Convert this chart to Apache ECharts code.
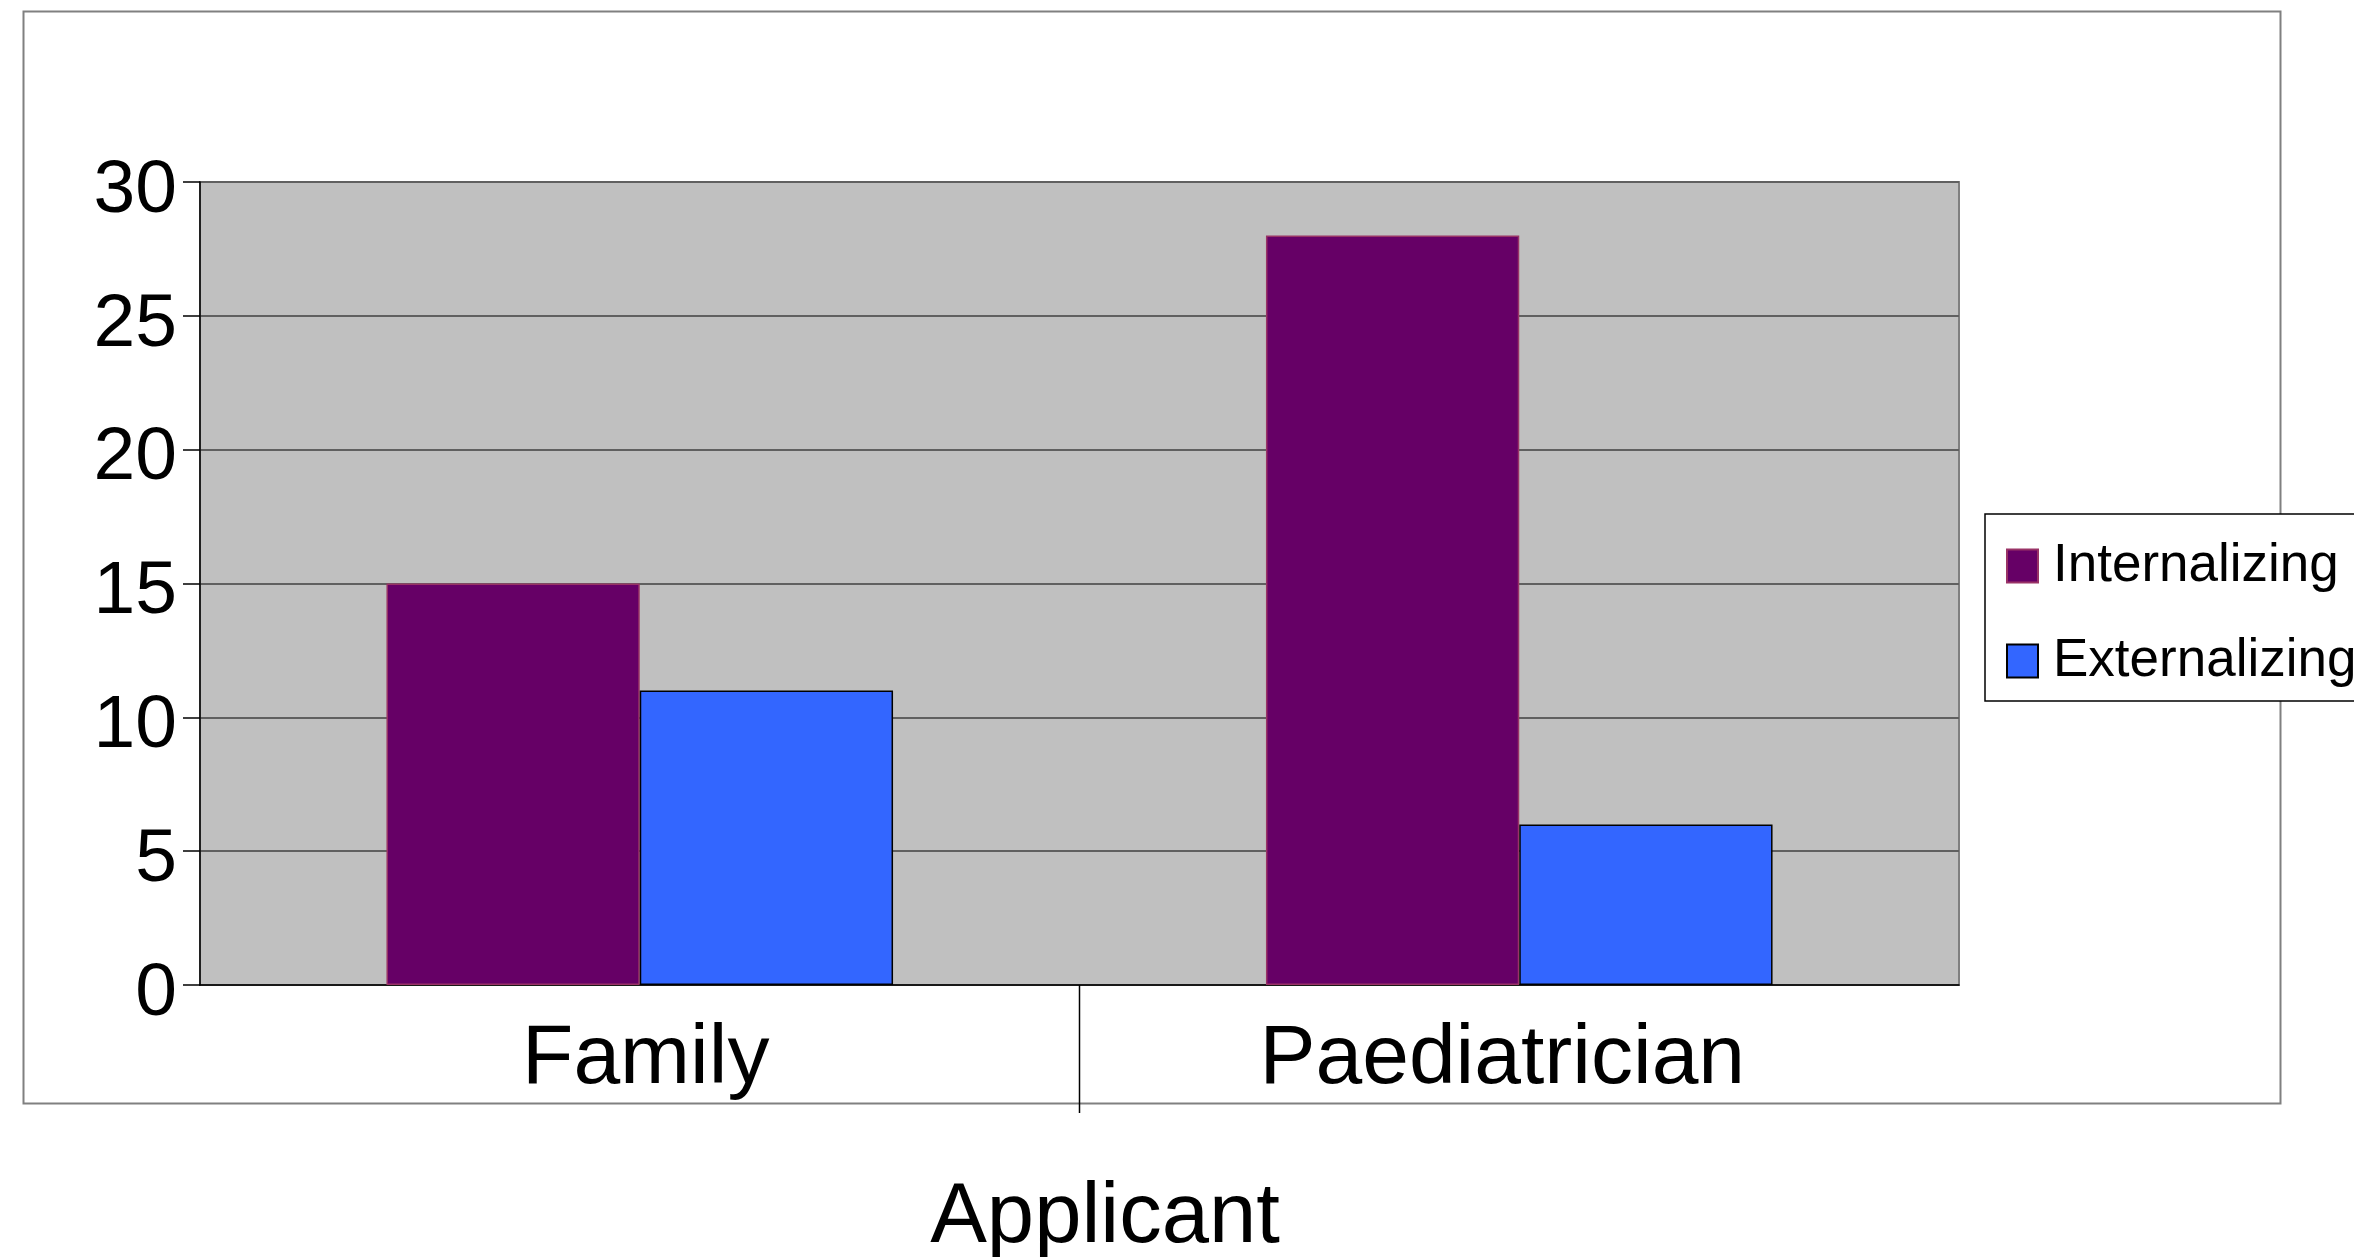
<!DOCTYPE html>
<html>
<head>
<meta charset="utf-8">
<script src="https://cdn.jsdelivr.net/npm/echarts@6/dist/echarts.min.js"></script>
<style>
  html, body { margin: 0; padding: 0; background: #fff; }
  #chart { width: 2354px; height: 1257px; }
</style>
</head>
<body>
<div id="chart"></div>
<script>
// data
let categories = ['Family', 'Paediatrician'];
let internalizing = [15, 28];
let externalizing = [11, 6];
let y_ticks = { min: 0, max: 30, interval: 5 };

let FONT = '"Liberation Sans", Arial, sans-serif';

function draw_Bar(ID){
  let option = {
    backgroundColor: '#fff',
    animation: false,
    title: {
      text: 'Applicant',
      left: 1100,
      top: 1171,
      textAlign: 'center',
      textStyle: { fontFamily: FONT, fontSize: 85, fontWeight: 'normal', color: '#000' }
    },
    legend: {
      orient: 'vertical',
      left: 1985,
      top: 514,
      padding: [22, 40, 10, 21],
      backgroundColor: '#fff',
      borderColor: '#000',
      borderWidth: 1.5,
      icon: 'rect',
      itemWidth: 31,
      itemHeight: 33,
      itemGap: 35,
      textStyle: { fontFamily: FONT, fontSize: 53, color: '#000', lineHeight: 60, padding: [0, 0, 0, 10] },
      data: ['Internalizing', 'Externalizing']
    },
    grid: {
      left: 200,
      top: 182,
      right: 395,
      bottom: 272,
      show: true,
      backgroundColor: '#c0c0c0',
      borderColor: '#808080',
      borderWidth: 2
    },
    xAxis: {
      type: 'category',
      data: categories,
      axisLine: { lineStyle: { color: '#000', width: 1.5 } },
      axisTick: { length: 18, lineStyle: { color: '#000', width: 1.5 } },
      axisLabel: {
        fontFamily: FONT, fontSize: 84, color: '#000', margin: 33,
        // labels sit a little off the band centres in the original
        formatter: function(v, i){ return i === 0 ? '{a|' + v + '}' : '{b|' + v + '}'; },
        rich: {
          a: { fontFamily: FONT, fontSize: 84, color: '#000', padding: [0, 0, 0, 12] },
          b: { fontFamily: FONT, fontSize: 84, color: '#000', padding: [0, 34, 0, 0] }
        }
      }
    },
    yAxis: {
      type: 'value',
      min: y_ticks.min,
      max: y_ticks.max,
      interval: y_ticks.interval,
      axisLine: { show: true, lineStyle: { color: '#000', width: 1.5 } },
      axisTick: { show: true, length: 17, lineStyle: { color: '#000', width: 1.5 } },
      // numbers hang slightly below their gridlines
      axisLabel: { fontFamily: FONT, fontSize: 75, color: '#000', margin: 23, verticalAlign: 'top', lineHeight: 18 },
      splitLine: { lineStyle: { color: '#606060', width: 2 } }
    },
    series: [
      {
        name: 'Internalizing',
        type: 'bar',
        data: internalizing,
        barWidth: '28.8%',
        barGap: '0%',
        itemStyle: { color: '#660066', borderColor: '#993366', borderWidth: 1.5 }
      },
      {
        name: 'Externalizing',
        type: 'bar',
        data: externalizing,
        barWidth: '28.8%',
        itemStyle: { color: '#3366ff', borderColor: '#000', borderWidth: 1.5 }
      }
    ]
  };

  let myChart = echarts.init(document.getElementById(ID));
  myChart.setOption(option);

  // long separator tick between categories + outer frame
  let x0 = myChart.convertToPixel({ xAxisIndex: 0 }, categories[0]);
  let x1 = myChart.convertToPixel({ xAxisIndex: 0 }, categories[1]);
  let yb = myChart.convertToPixel({ yAxisIndex: 0 }, 0);
  let xm = (x0 + x1) / 2;

  myChart.setOption({
    graphic: [
      {
        type: 'rect',
        shape: { x: 23.5, y: 11.5, width: 2257, height: 1092 },
        style: { fill: null, stroke: '#808080', lineWidth: 2 },
        z: -1
      },
      {
        type: 'line',
        shape: { x1: xm, y1: yb, x2: xm, y2: yb + 128 },
        style: { stroke: '#000', lineWidth: 1.5 }
      }
    ]
  });
}

draw_Bar('chart');
</script>
</body>
</html>
